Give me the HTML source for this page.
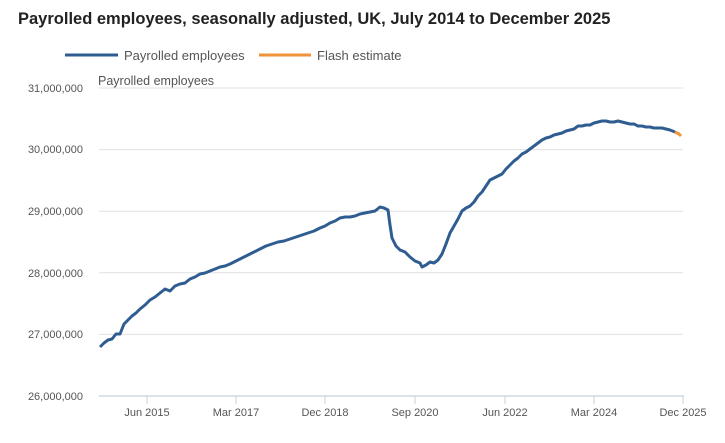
<!DOCTYPE html>
<html><head><meta charset="utf-8"><style>
body{margin:0;background:#fff;}
svg{display:block;font-family:"Liberation Sans",sans-serif;}
</style></head><body>
<svg width="725" height="443" viewBox="0 0 725 443">
<text x="18" y="24" font-size="16.5" font-weight="bold" fill="#222">Payrolled employees, seasonally adjusted, UK, July 2014 to December 2025</text>
<line x1="65" y1="55" x2="118" y2="55" stroke="#2f5d91" stroke-width="3"/>
<text x="124" y="60" font-size="13" fill="#555">Payrolled employees</text>
<line x1="259" y1="55" x2="311" y2="55" stroke="#f0923a" stroke-width="3"/>
<text x="317" y="60" font-size="13" fill="#555">Flash estimate</text>
<text x="98" y="85" font-size="12.5" fill="#555">Payrolled employees</text>
<g stroke="#e0e0e0" stroke-width="1">
<line x1="99" y1="88" x2="683" y2="88"/>
<line x1="99" y1="149.6" x2="683" y2="149.6"/>
<line x1="99" y1="211.2" x2="683" y2="211.2"/>
<line x1="99" y1="272.8" x2="683" y2="272.8"/>
<line x1="99" y1="334.4" x2="683" y2="334.4"/>
</g>
<line x1="99" y1="396" x2="684" y2="396" stroke="#c8d0dc" stroke-width="1.2"/>
<g stroke="#c8d0dc" stroke-width="1">
<line x1="147" y1="396" x2="147" y2="404"/><line x1="236" y1="396" x2="236" y2="404"/>
<line x1="325" y1="396" x2="325" y2="404"/><line x1="415" y1="396" x2="415" y2="404"/>
<line x1="505" y1="396" x2="505" y2="404"/><line x1="594" y1="396" x2="594" y2="404"/>
<line x1="683" y1="396" x2="683" y2="404"/>
</g>
<g font-size="11" fill="#555" text-anchor="end">
<text x="83" y="92">31,000,000</text><text x="83" y="153">30,000,000</text>
<text x="83" y="215">29,000,000</text><text x="83" y="277">28,000,000</text>
<text x="83" y="338">27,000,000</text><text x="83" y="400">26,000,000</text>
</g>
<g font-size="11" fill="#555" text-anchor="middle">
<text x="147" y="416">Jun 2015</text><text x="236" y="416">Mar 2017</text>
<text x="325" y="416">Dec 2018</text><text x="415" y="416">Sep 2020</text>
<text x="505" y="416">Jun 2022</text><text x="594" y="416">Mar 2024</text>
<text x="683" y="416">Dec 2025</text>
</g>
<polyline fill="none" stroke="#2f5d91" stroke-width="3" stroke-linejoin="round"
points="100,347 104,343 108,340 112,339 116,334 120,334 124,324 128,320 132,316 136,313 140,309 145,305 150,300 155,297 160,293 165,289 170,291 175,286 180,284 185,283 190,279 195,277 200,274 205,273 210,271 215,269 220,267 225,266 230,264 236,261 242,258 248,255 254,252 260,249 266,246 272,244 278,242 284,241 290,239 296,237 302,235 308,233 314,231 320,228 325,226 330,223 335,221 340,218 345,217 350,217 355,216 360,214 365,213 370,212 375,211 380,207 384,208 388,210 390,225 392,238 396,246 400,250 405,252 410,257 415,261 420,263 422,267 426,265 430,262 434,263 438,260 442,254 446,244 450,233 454,226 458,219 462,211 466,208 470,206 474,202 478,196 482,192 486,186 490,180 494,178 498,176 502,174 506,169 510,165 514,161 518,158 522,154 526,152 530,149 534,146 538,143 542,140 546,138 550,137 554,135 558,134 562,133 566,131 570,130 574,129 578,126 582,126 586,125 590,125 594,123 598,122 602,121 606,121 610,122 614,122 618,121 622,122 626,123 630,124 634,124 638,126 642,126 646,127 650,127 654,128 658,128 662,128 666,129 670,130 675,132"/>
<polyline fill="none" stroke="#f0923a" stroke-width="3" points="675,132 679,134 681,136"/>
</svg>
</body></html>
